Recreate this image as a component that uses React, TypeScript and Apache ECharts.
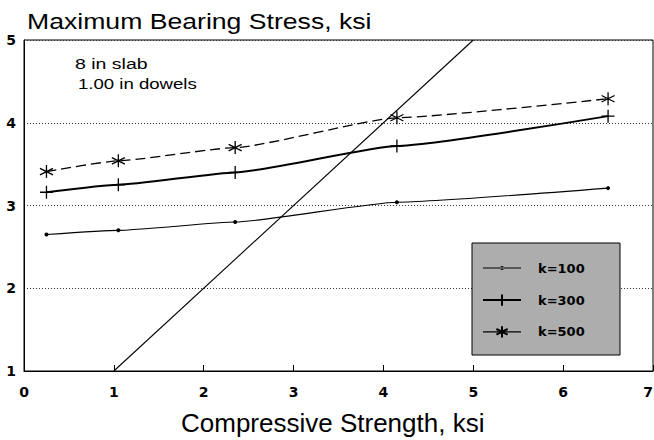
import React, { useEffect, useRef } from "react";
import * as echarts from "echarts";

const strengthKsi = [0.25, 1.05, 2.35, 4.15, 6.5];
const k100 = [2.65, 2.7, 2.8, 3.04, 3.21];
const k300 = [3.16, 3.25, 3.4, 3.72, 4.08];
const k500 = [3.41, 3.54, 3.7, 4.06, 4.29];
const refLine = [
  [1, 1],
  [5, 5],
];
const seriesNames = ["k=100", "k=300", "k=500"];
const titleText = "Maximum Bearing Stress, ksi";
const xTitle = "Compressive Strength, ksi";
const notes = ["8 in slab", "1.00 in dowels"];

const PLUS = "path://M0,-1L0,1M-1,0L1,0";
const STAR = "path://M0,-1L0,1M-0.87,-0.5L0.87,0.5M-0.87,0.5L0.87,-0.5";
// legend icon for k=100: thin line with a small dot (box 38x14)
const DOT_ICON =
  "path://M0,0L0.01,0L0.01,0.01Z M38,14L37.99,14L37.99,13.99Z M0,6.5L38,6.5L38,7.5L0,7.5Z M17,7A2,2 0 1,0 21,7A2,2 0 1,0 17,7Z";

const pair = (ys: number[]) => strengthKsi.map((x, i) => [x, ys[i]]);

export default function App() {
  const ref = useRef<HTMLDivElement>(null);
  useEffect(() => {
    if (!ref.current) return;
    const chart = echarts.init(ref.current, null, { renderer: "svg" });
    const tickFont = {
      fontFamily: "DejaVu Sans",
      fontWeight: "bold" as const,
      fontSize: 14,
      color: "#000",
    };
    chart.setOption({
      animation: false,
      backgroundColor: "#fff",
      grid: {
        left: 24,
        right: 1,
        top: 40,
        bottom: 69,
        show: true,
        borderColor: "#000",
        borderWidth: 1,
        containLabel: false,
        outerBoundsMode: "none",
      },
      xAxis: {
        type: "value",
        min: 0,
        max: 7,
        interval: 1,
        axisLine: { show: true, onZero: false, lineStyle: { color: "#000", width: 1 } },
        axisTick: { show: true, inside: true, length: 6, lineStyle: { color: "#000" } },
        axisLabel: { ...tickFont, margin: 14, alignMaxLabel: "right" },
        splitLine: { show: false },
      },
      yAxis: {
        type: "value",
        min: 1,
        max: 5,
        interval: 1,
        axisLine: { show: true, onZero: false, lineStyle: { color: "#000", width: 1 } },
        axisTick: { show: false },
        axisLabel: { ...tickFont, margin: 8 },
        splitLine: {
          show: true,
          lineStyle: { color: "#333", type: [1, 2], width: 1 },
        },
      },
      legend: {
        orient: "vertical",
        left: 472,
        top: 243,
        padding: [18, 20, 17, 10],
        itemWidth: 38,
        itemHeight: 14,
        itemGap: 18.5,
        selectedMode: false,
        textStyle: {
          fontFamily: "DejaVu Sans",
          fontWeight: "bold",
          fontSize: 13,
          color: "#000",
          padding: [0, 0, 0, 12],
        },
        data: [
          { name: seriesNames[0], icon: DOT_ICON },
          { name: seriesNames[1] },
          { name: seriesNames[2], lineStyle: { type: "solid", width: 1.3 } },
        ],
        z: 10,
      },
      graphic: [
        {
          type: "rect",
          shape: { x: 472, y: 243, width: 148, height: 112 },
          style: { fill: "#adadad", stroke: "#000", lineWidth: 1 },
          z: 5,
        },
        {
          type: "text",
          x: 27,
          y: 21.5,
          scaleX: 1.21,
          style: {
            text: titleText,
            fontFamily: "Liberation Sans",
            fontSize: 22,
            fill: "#000",
            textAlign: "left",
            textVerticalAlign: "middle",
          },
        },
        {
          type: "text",
          x: 75,
          y: 64,
          scaleX: 1.3,
          style: {
            text: notes[0],
            fontFamily: "Liberation Sans",
            fontSize: 15,
            fill: "#000",
            textAlign: "left",
            textVerticalAlign: "middle",
          },
        },
        {
          type: "text",
          x: 78,
          y: 84,
          scaleX: 1.24,
          style: {
            text: notes[1],
            fontFamily: "Liberation Sans",
            fontSize: 15,
            fill: "#000",
            textAlign: "left",
            textVerticalAlign: "middle",
          },
        },
        {
          type: "text",
          x: 181,
          y: 423,
          style: {
            text: xTitle,
            fontFamily: "Liberation Sans",
            fontSize: 26,
            fill: "#000",
            textAlign: "left",
            textVerticalAlign: "middle",
          },
        },
      ],
      series: [
        {
          name: "ref",
          type: "line",
          data: refLine,
          showSymbol: false,
          symbol: "none",
          lineStyle: { color: "#000", width: 1.1 },
          itemStyle: { color: "#000" },
          z: 3,
        },
        {
          name: seriesNames[0],
          type: "line",
          data: pair(k100),
          smooth: 0.15,
          smoothMonotone: "x",
          symbol: "circle",
          symbolSize: 4,
          color: "#000",
          lineStyle: { color: "#000", width: 1.1 },
          itemStyle: { color: "#000" },
          z: 3,
        },
        {
          name: seriesNames[1],
          type: "line",
          data: pair(k300),
          smooth: 0.15,
          smoothMonotone: "x",
          symbol: PLUS,
          symbolSize: 13,
          color: "#000",
          lineStyle: { color: "#000", width: 2 },
          itemStyle: { color: "#000", borderColor: "#000", borderWidth: 1.3 },
          z: 3,
        },
        {
          name: seriesNames[2],
          type: "line",
          data: pair(k500),
          smooth: 0.15,
          smoothMonotone: "x",
          symbol: STAR,
          symbolSize: 13,
          color: "#000",
          lineStyle: { color: "#000", width: 1.3, type: [10, 5] },
          itemStyle: { color: "#000", borderColor: "#000", borderWidth: 1.3 },
          z: 3,
        },
      ],
    });
    return () => chart.dispose();
  }, []);
  return <div ref={ref} style={{ width: 654, height: 440, position: "absolute", left: 0, top: 0 }} />;
}
